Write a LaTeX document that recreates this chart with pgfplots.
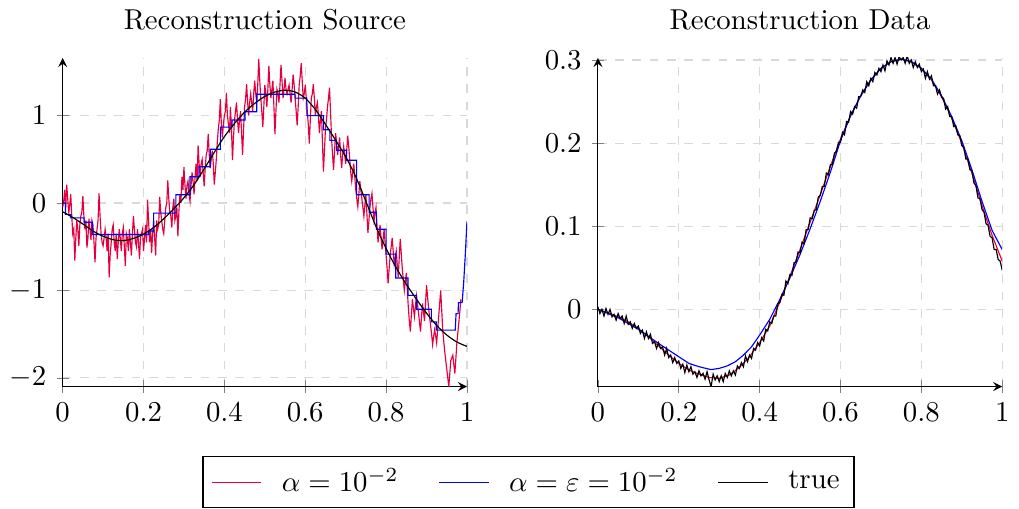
\documentclass[border=0pt]{standalone}
\usepackage{pgfplots}
\pgfplotsset{compat=1.18}
\definecolor{rred}{RGB}{228,0,62}

\pgfplotsset{
  recon/.style={
    scale only axis,
    width=140.5pt, height=114.2pt,
    axis lines=left,
    xmin=0, xmax=1,
    xtick={0,0.2,0.4,0.6,0.8,1},
    grid=major,
    grid style={dashed, gray!30},
  }
}

\begin{document}
\begin{tikzpicture}
  % left: reconstructed source
  \begin{axis}[recon,
      title={Reconstruction Source},
      ymin=-2.1, ymax=1.66,
      ytick={-2,-1,0,1},
      legend style={at={(1.152,-0.212)}, anchor=north, legend columns=3,
        /tikz/every odd column/.append style={column sep=5pt},
        /tikz/every even column/.append style={column sep=12pt}},
    ]
    \addplot[rred, no marks] coordinates {
      (0.000,-0.05) (0.0025,0.02) (0.005,0.15) (0.0075,-0.05) (0.010,0.21) (0.0125,0.05)
      (0.015,-0.12) (0.0175,-0.02) (0.020,0.10) (0.0225,-0.15) (0.025,-0.35) (0.0275,-0.30)
      (0.030,-0.66) (0.0325,-0.40) (0.035,-0.20) (0.0375,-0.30) (0.040,-0.49) (0.0425,-0.25)
      (0.045,-0.15) (0.0475,-0.10) (0.050,0.08) (0.0525,-0.15) (0.055,-0.30) (0.0575,-0.20)
      (0.060,-0.51) (0.0625,-0.40) (0.065,-0.18) (0.0675,-0.30) (0.070,-0.42) (0.0725,-0.20)
      (0.075,-0.25) (0.0775,-0.45) (0.080,-0.68) (0.0825,-0.40) (0.085,-0.30) (0.0875,-0.20)
      (0.090,0.11) (0.0925,-0.15) (0.095,-0.35) (0.0975,-0.45) (0.100,-0.49) (0.1025,-0.40)
      (0.105,-0.30) (0.1075,-0.40) (0.110,-0.55) (0.1125,-0.35) (0.115,-0.85) (0.1175,-0.60)
      (0.120,-0.45) (0.1225,-0.30) (0.125,-0.25) (0.1275,-0.45) (0.130,-0.55) (0.1325,-0.35)
      (0.135,-0.64) (0.1375,-0.45) (0.140,-0.30) (0.1425,-0.40) (0.145,-0.55) (0.1475,-0.35)
      (0.150,-0.28) (0.1525,-0.50) (0.155,-0.72) (0.1575,-0.35) (0.160,-0.40) (0.1625,-0.55)
      (0.165,-0.30) (0.1675,-0.45) (0.170,-0.60) (0.1725,-0.35) (0.175,-0.15) (0.1775,-0.30)
      (0.180,-0.45) (0.1825,-0.50) (0.185,-0.30) (0.1875,-0.45) (0.190,-0.64) (0.1925,-0.40)
      (0.195,-0.35) (0.1975,-0.30) (0.200,-0.55) (0.2025,-0.40) (0.205,-0.25) (0.2075,-0.45)
      (0.210,0.04) (0.2125,-0.20) (0.215,-0.45) (0.2175,-0.30) (0.220,-0.57) (0.2225,-0.35)
      (0.225,-0.20) (0.2275,-0.40) (0.230,-0.60) (0.2325,-0.20) (0.235,-0.30) (0.2375,-0.25)
      (0.240,0.07) (0.2425,-0.10) (0.245,-0.20) (0.2475,-0.30) (0.250,-0.35) (0.2525,-0.20)
      (0.255,-0.05) (0.2575,0.00) (0.260,0.26) (0.2625,0.05) (0.265,-0.10) (0.2675,-0.15)
      (0.270,-0.28) (0.2725,-0.05) (0.275,0.05) (0.2775,-0.20) (0.280,-0.15) (0.2825,-0.05)
      (0.285,-0.38) (0.2875,-0.10) (0.290,0.10) (0.2925,0.00) (0.295,0.30) (0.2975,0.15)
      (0.300,0.41) (0.3025,0.20) (0.305,0.05) (0.3075,0.20) (0.310,0.25) (0.3125,0.10)
      (0.315,0.02) (0.3175,0.20) (0.320,0.35) (0.3225,0.25) (0.325,0.10) (0.3275,0.30)
      (0.330,0.45) (0.3325,0.25) (0.335,0.66) (0.3375,0.45) (0.340,0.30) (0.3425,0.45)
      (0.345,0.50) (0.3475,0.35) (0.350,0.19) (0.3525,0.40) (0.355,0.55) (0.3575,0.60)
      (0.360,0.79) (0.3625,0.55) (0.365,0.40) (0.3675,0.50) (0.370,0.60) (0.3725,0.45)
      (0.375,0.21) (0.3775,0.35) (0.380,0.50) (0.3825,0.70) (0.385,0.85) (0.3875,0.95)
      (0.390,1.19) (0.3925,0.90) (0.395,0.75) (0.3975,0.90) (0.400,1.00) (0.4025,1.05)
      (0.405,1.26) (0.4075,1.00) (0.410,0.90) (0.4125,0.80) (0.415,1.10) (0.4175,0.85)
      (0.420,0.49) (0.4225,0.75) (0.425,0.95) (0.4275,1.05) (0.430,1.15) (0.4325,0.95)
      (0.435,0.80) (0.4375,0.95) (0.440,1.05) (0.4425,0.80) (0.445,0.55) (0.4475,0.85)
      (0.450,1.10) (0.4525,1.20) (0.455,1.36) (0.4575,1.15) (0.460,1.00) (0.4625,1.15)
      (0.465,1.25) (0.4675,1.15) (0.470,1.05) (0.4725,1.25) (0.475,1.40) (0.4775,1.25)
      (0.480,1.15) (0.4825,1.35) (0.485,1.65) (0.4875,1.40) (0.490,1.20) (0.4925,1.05)
      (0.495,0.87) (0.4975,1.10) (0.500,1.35) (0.5025,1.25) (0.505,1.10) (0.5075,1.30)
      (0.510,1.57) (0.5125,1.35) (0.515,1.20) (0.5175,1.30) (0.520,1.40) (0.5225,1.10)
      (0.525,0.79) (0.5275,1.05) (0.530,1.30) (0.5325,1.25) (0.535,1.15) (0.5375,1.35)
      (0.540,1.58) (0.5425,1.40) (0.545,1.20) (0.5475,1.30) (0.550,1.43) (0.5525,1.30)
      (0.555,1.25) (0.5575,1.30) (0.560,1.35) (0.5625,1.25) (0.565,1.15) (0.5675,1.30)
      (0.570,1.47) (0.5725,1.35) (0.575,1.20) (0.5775,1.05) (0.580,0.89) (0.5825,1.10)
      (0.585,1.35) (0.5875,1.45) (0.590,1.60) (0.5925,1.40) (0.595,1.20) (0.5975,1.25)
      (0.600,1.35) (0.6025,1.20) (0.605,1.05) (0.6075,0.90) (0.610,0.68) (0.6125,0.95)
      (0.615,1.20) (0.6175,1.25) (0.620,1.36) (0.6225,1.20) (0.625,1.00) (0.6275,1.10)
      (0.630,1.15) (0.6325,1.00) (0.635,0.80) (0.6375,0.95) (0.640,1.05) (0.6425,0.70)
      (0.645,0.36) (0.6475,0.60) (0.650,0.85) (0.6525,0.95) (0.655,1.10) (0.6575,1.20)
      (0.660,1.32) (0.6625,1.05) (0.665,0.75) (0.6675,0.55) (0.670,0.38) (0.6725,0.60)
      (0.675,0.80) (0.6775,0.70) (0.680,0.55) (0.6825,0.65) (0.685,0.75) (0.6875,0.55)
      (0.690,0.40) (0.6925,0.55) (0.695,0.65) (0.6975,0.55) (0.700,0.45) (0.7025,0.60)
      (0.705,0.77) (0.7075,0.65) (0.710,0.50) (0.7125,0.35) (0.715,0.25) (0.7175,0.35)
      (0.720,0.45) (0.7225,0.30) (0.725,0.15) (0.7275,0.05) (0.730,-0.04) (0.7325,0.10)
      (0.735,0.25) (0.7375,0.15) (0.740,0.05) (0.7425,-0.05) (0.745,-0.15) (0.7475,-0.02)
      (0.750,0.10) (0.7525,-0.12) (0.755,-0.34) (0.7575,-0.20) (0.760,-0.05) (0.7625,0.05)
      (0.765,0.11) (0.7675,-0.05) (0.770,-0.20) (0.7725,-0.12) (0.775,-0.05) (0.7775,-0.25)
      (0.780,-0.45) (0.7825,-0.35) (0.785,-0.25) (0.7875,-0.40) (0.790,-0.53) (0.7925,-0.42)
      (0.795,-0.30) (0.7975,-0.45) (0.800,-0.60) (0.8025,-0.75) (0.805,-0.92) (0.8075,-0.75)
      (0.810,-0.60) (0.8125,-0.50) (0.815,-0.40) (0.8175,-0.55) (0.820,-0.70) (0.8225,-0.62)
      (0.825,-0.55) (0.8275,-0.70) (0.830,-0.85) (0.8325,-0.62) (0.835,-0.41) (0.8375,-0.58)
      (0.840,-0.75) (0.8425,-0.88) (0.845,-1.00) (0.8475,-0.90) (0.850,-0.80) (0.8525,-1.00)
      (0.855,-1.20) (0.8575,-1.35) (0.860,-1.47) (0.8625,-1.28) (0.865,-1.10) (0.8675,-1.20)
      (0.870,-1.30) (0.8725,-1.18) (0.875,-1.06) (0.8775,-1.15) (0.880,-1.25) (0.8825,-1.36)
      (0.885,-1.47) (0.8875,-1.30) (0.890,-1.15) (0.8925,-1.25) (0.895,-1.35) (0.8975,-1.15)
      (0.900,-0.94) (0.9025,-1.07) (0.905,-1.20) (0.9075,-1.30) (0.910,-1.40) (0.9125,-1.50)
      (0.915,-1.62) (0.9175,-1.53) (0.920,-1.45) (0.9225,-1.52) (0.925,-1.60) (0.9275,-1.45)
      (0.930,-1.30) (0.9325,-1.15) (0.935,-1.00) (0.9375,-1.22) (0.940,-1.45) (0.9425,-1.58)
      (0.945,-1.70) (0.9475,-1.80) (0.950,-1.90) (0.9525,-2.00) (0.955,-2.10) (0.9575,-1.95)
      (0.960,-1.80) (0.9625,-1.77) (0.965,-1.74) (0.9675,-1.85) (0.970,-1.95) (0.9725,-1.78)
      (0.975,-1.60) (0.9775,-1.48) (0.980,-1.36) (0.9825,-1.23) (0.985,-1.10)
    };
    \addlegendentry{$\alpha = 10^{-2}$}
    \addplot[blue, no marks] coordinates {
      (0,0) (0.007,0) (0.007,-0.13) (0.02,-0.13) (0.02,-0.17) (0.053,-0.17)
      (0.053,-0.22) (0.073,-0.22) (0.073,-0.36) (0.213,-0.36) (0.213,-0.32)
      (0.225,-0.32) (0.225,-0.115) (0.280,-0.115) (0.280,0.095) (0.315,0.095)
      (0.315,0.30) (0.337,0.30) (0.337,0.415) (0.365,0.415) (0.365,0.615)
      (0.390,0.615) (0.390,0.868) (0.419,0.868) (0.419,0.95) (0.451,0.95)
      (0.451,1.045) (0.480,1.045) (0.480,1.245) (0.575,1.245) (0.575,1.20)
      (0.604,1.20) (0.604,1.0) (0.645,1.0) (0.645,0.838) (0.661,0.838)
      (0.661,0.717) (0.677,0.717) (0.677,0.604) (0.702,0.604) (0.702,0.49)
      (0.727,0.49) (0.727,0.094) (0.758,0.094) (0.758,-0.106) (0.776,-0.106)
      (0.776,-0.30) (0.800,-0.30) (0.800,-0.585) (0.824,-0.585) (0.824,-0.857)
      (0.854,-0.857) (0.854,-1.057) (0.875,-1.057) (0.875,-1.216) (0.912,-1.216)
      (0.912,-1.36) (0.924,-1.36) (0.924,-1.454) (0.971,-1.454) (0.973,-1.265)
      (0.978,-1.265) (0.979,-1.14) (0.988,-1.14) (0.992,-0.90) (0.996,-0.58)
      (1.000,-0.21)
    };
    \addlegendentry{$\alpha = \varepsilon = 10^{-2}$}
    \addplot[black, no marks, smooth] coordinates {
      (0.000,-0.10) (0.025,-0.165) (0.050,-0.24) (0.075,-0.32) (0.100,-0.38)
      (0.125,-0.42) (0.150,-0.43) (0.175,-0.405) (0.200,-0.355) (0.225,-0.28)
      (0.250,-0.18) (0.275,-0.065) (0.300,0.06) (0.325,0.21) (0.350,0.39)
      (0.375,0.58) (0.400,0.76) (0.425,0.91) (0.450,1.04) (0.475,1.14)
      (0.500,1.22) (0.525,1.27) (0.550,1.29) (0.575,1.27) (0.600,1.20)
      (0.625,1.07) (0.650,0.90) (0.675,0.72) (0.700,0.53) (0.725,0.30)
      (0.750,0.02) (0.775,-0.27) (0.800,-0.52) (0.825,-0.74) (0.850,-0.93)
      (0.875,-1.10) (0.900,-1.26) (0.925,-1.40) (0.950,-1.51) (0.975,-1.59)
      (1.000,-1.64)
    };
    \addlegendentry{true}
  \end{axis}

  % right: reconstructed data
  \begin{axis}[recon, at={(186pt,0pt)},
      title={Reconstruction Data},
      ymin=-0.0929, ymax=0.3025,
      ytick={0,0.1,0.2,0.3},
    ]
    \addplot[rred, no marks] coordinates {
      (0.000,0.000) (0.025,-0.004) (0.050,-0.009) (0.075,-0.015) (0.100,-0.023)
      (0.125,-0.033) (0.150,-0.044) (0.175,-0.055) (0.200,-0.065) (0.225,-0.073)
      (0.250,-0.078) (0.275,-0.082) (0.300,-0.083) (0.325,-0.079) (0.350,-0.070)
      (0.375,-0.057) (0.400,-0.040) (0.425,-0.020) (0.450,0.009) (0.475,0.040)
      (0.500,0.072) (0.525,0.105) (0.550,0.138) (0.575,0.172) (0.600,0.205)
      (0.625,0.233) (0.650,0.257) (0.675,0.276) (0.700,0.290) (0.725,0.298)
      (0.750,0.301) (0.775,0.298) (0.800,0.290) (0.825,0.276) (0.850,0.256)
      (0.875,0.230) (0.900,0.200) (0.925,0.164) (0.950,0.125) (0.975,0.089)
      (1.000,0.058)
    };
    \addplot[blue, no marks] coordinates {
      (0.000,0.000) (0.050,-0.010) (0.100,-0.024) (0.150,-0.041) (0.200,-0.057)
      (0.225,-0.065) (0.250,-0.069) (0.280,-0.0725) (0.300,-0.071) (0.320,-0.068)
      (0.340,-0.063) (0.360,-0.055) (0.380,-0.045) (0.400,-0.031) (0.425,-0.012)
      (0.450,0.012) (0.475,0.038) (0.500,0.066) (0.525,0.097) (0.550,0.130)
      (0.575,0.165) (0.600,0.203) (0.625,0.233) (0.650,0.257) (0.675,0.276)
      (0.700,0.290) (0.725,0.298) (0.750,0.301) (0.775,0.298) (0.800,0.290)
      (0.825,0.277) (0.850,0.257) (0.875,0.232) (0.900,0.203) (0.925,0.168)
      (0.950,0.130) (0.975,0.095) (1.000,0.072)
    };
    \addplot[black, no marks] coordinates {
      (0.000,0.003) (0.005,-0.005) (0.010,0.000) (0.015,-0.008) (0.020,0.001)
      (0.025,-0.006) (0.030,0.000) (0.035,-0.009) (0.040,-0.006) (0.045,-0.013)
      (0.050,-0.005) (0.055,-0.011) (0.060,-0.008) (0.065,-0.017) (0.070,-0.008)
      (0.075,-0.018) (0.080,-0.015) (0.085,-0.023) (0.090,-0.017) (0.095,-0.023)
      (0.100,-0.020) (0.105,-0.029) (0.110,-0.025) (0.115,-0.035) (0.120,-0.027)
      (0.125,-0.035) (0.130,-0.030) (0.135,-0.041) (0.140,-0.039) (0.145,-0.047)
      (0.150,-0.040) (0.155,-0.047) (0.160,-0.045) (0.165,-0.055) (0.170,-0.047)
      (0.175,-0.058) (0.180,-0.055) (0.185,-0.064) (0.190,-0.058) (0.195,-0.065)
      (0.200,-0.062) (0.205,-0.071) (0.210,-0.066) (0.215,-0.076) (0.220,-0.067)
      (0.225,-0.075) (0.230,-0.069) (0.235,-0.078) (0.240,-0.075) (0.245,-0.082)
      (0.250,-0.074) (0.255,-0.080) (0.260,-0.077) (0.265,-0.084) (0.270,-0.075)
      (0.275,-0.085) (0.280,-0.093) (0.285,-0.078) (0.290,-0.085) (0.295,-0.080)
      (0.300,-0.087) (0.305,-0.080) (0.310,-0.087) (0.315,-0.077) (0.320,-0.082)
      (0.325,-0.074) (0.330,-0.080) (0.335,-0.074) (0.340,-0.079) (0.345,-0.068)
      (0.350,-0.071) (0.355,-0.064) (0.360,-0.069) (0.365,-0.056) (0.370,-0.063)
      (0.375,-0.055) (0.380,-0.059) (0.385,-0.047) (0.390,-0.049) (0.395,-0.040)
      (0.400,-0.044) (0.405,-0.034) (0.410,-0.038) (0.415,-0.024) (0.420,-0.026)
      (0.425,-0.015) (0.430,-0.017) (0.435,-0.008) (0.440,-0.008) (0.445,0.007)
      (0.450,0.008) (0.455,0.018) (0.460,0.017) (0.465,0.034) (0.470,0.031)
      (0.475,0.042) (0.480,0.041) (0.485,0.056) (0.490,0.057) (0.495,0.069)
      (0.500,0.068) (0.505,0.081) (0.510,0.079) (0.515,0.096) (0.520,0.096)
      (0.525,0.110) (0.530,0.109) (0.535,0.119) (0.540,0.120) (0.545,0.135)
      (0.550,0.137) (0.555,0.148) (0.560,0.148) (0.565,0.164) (0.570,0.162)
      (0.575,0.174) (0.580,0.174) (0.585,0.188) (0.590,0.190) (0.595,0.201)
      (0.600,0.201) (0.605,0.213) (0.610,0.210) (0.615,0.226) (0.620,0.225)
      (0.625,0.238) (0.630,0.235) (0.635,0.244) (0.640,0.242) (0.645,0.256)
      (0.650,0.256) (0.655,0.264) (0.660,0.261) (0.665,0.274) (0.670,0.269)
      (0.675,0.278) (0.680,0.274) (0.685,0.285) (0.690,0.282) (0.695,0.290)
      (0.700,0.286) (0.705,0.294) (0.710,0.287) (0.715,0.299) (0.720,0.294)
      (0.725,0.303) (0.730,0.296) (0.735,0.303) (0.740,0.295) (0.745,0.304)
      (0.750,0.300) (0.755,0.303) (0.760,0.296) (0.765,0.305) (0.770,0.296)
      (0.775,0.300) (0.780,0.291) (0.785,0.298) (0.790,0.291) (0.795,0.295)
      (0.800,0.286) (0.805,0.289) (0.810,0.278) (0.815,0.286) (0.820,0.277)
      (0.825,0.281) (0.830,0.269) (0.835,0.269) (0.840,0.259) (0.845,0.264)
      (0.850,0.255) (0.855,0.254) (0.860,0.241) (0.865,0.244) (0.870,0.232)
      (0.875,0.232) (0.880,0.220) (0.885,0.221) (0.890,0.210) (0.895,0.209)
      (0.900,0.197) (0.905,0.195) (0.910,0.181) (0.915,0.181) (0.920,0.168)
      (0.925,0.167) (0.930,0.152) (0.935,0.149) (0.940,0.134) (0.945,0.133)
      (0.950,0.120) (0.955,0.117) (0.960,0.103) (0.965,0.101) (0.970,0.088)
      (0.975,0.086) (0.980,0.072) (0.985,0.072) (0.990,0.060) (0.995,0.058)
      (1.000,0.047)
    };
  \end{axis}
\end{tikzpicture}
\end{document}
